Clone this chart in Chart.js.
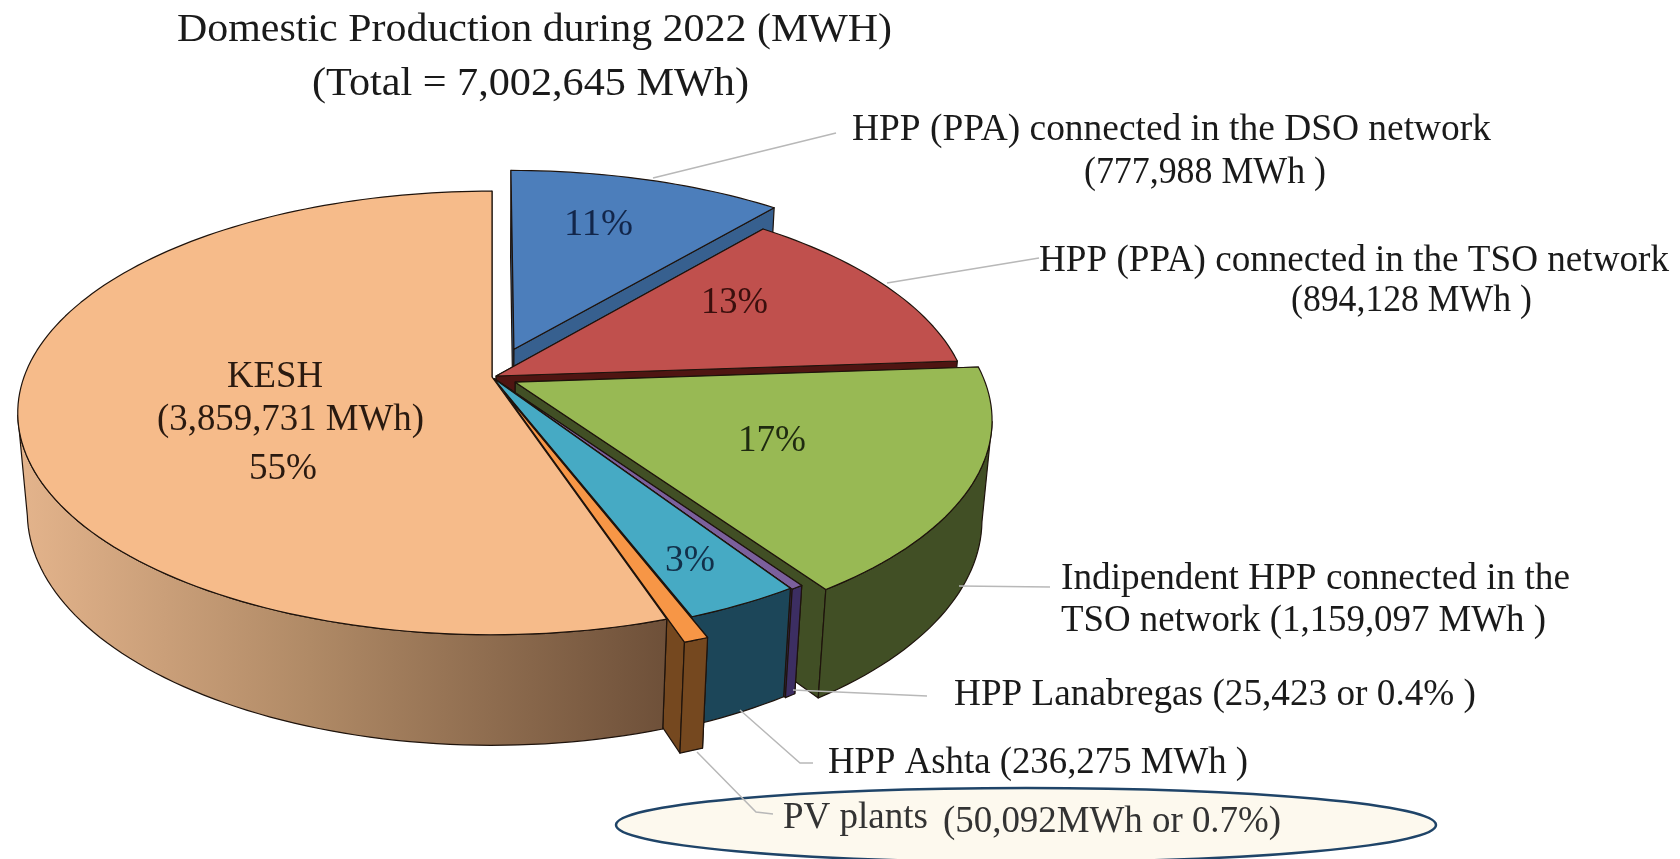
<!DOCTYPE html>
<html>
<head>
<meta charset="utf-8">
<title>Domestic Production during 2022</title>
<script src="https://cdn.jsdelivr.net/npm/chart.js@4"></script>
<style>
    html, body { margin: 0; padding: 0; background: #fff; overflow: hidden; }
    canvas { display: block; }
</style>
</head>
<body>
<canvas id="pieChart" width="1680" height="859"></canvas>
<script>
// Data, clockwise from 12 o'clock
const sliceNames = ['HPP (PPA) DSO', 'HPP (PPA) TSO', 'Indipendent HPP', 'HPP Lanabregas', 'HPP Ashta', 'PV plants', 'KESH'];
const sliceValues = [777988, 894128, 1159097, 25423, 236275, 50092, 3859731];

// Slice styling, same order as the data
const topColors = ['#4c7ebb', '#c0504d', '#98b954', '#7b609d', '#46aac4', '#f79646', '#f6bb8a'];
const wallColors = ['#37608f', '#4f1512', '#414f25', '#3c2e62', '#1c4659', '#75481f', null];
const explode = [0.14, 0.01, 0.055, 0.012, 0.008, 0.08, 0];

// [text, left x, middle y, width, colour] - the reference type runs wide, so width is fitted
const titleLabels = [
    ['Domestic Production during 2022 (MWH)', 177, 30, 715, '#1a1a1a'],
    ['(Total = 7,002,645 MWh)', 312, 84, 437, '#1a1a1a']
];
const pieLabels = [
    ['11%', 564, 225, 69, '#12264a'],
    ['13%', 701, 303, 67, '#3a0f0d'],
    ['17%', 738, 441, 68, '#1f2a10'],
    ['3%', 665, 561, 50, '#12304a'],
    ['KESH', 227, 377, 96, '#2a1a10'],
    ['(3,859,731 MWh)', 157, 420, 267, '#2a1a10'],
    ['55%', 249, 469, 68, '#2a1a10']
];
const sideLabels = [
    ['HPP (PPA) connected in the DSO network', 852, 130, 639, '#1a1a1a'],
    ['(777,988 MWh )', 1084, 173, 242, '#1a1a1a'],
    ['HPP (PPA) connected in the TSO network', 1039, 261, 630, '#1a1a1a'],
    ['(894,128 MWh )', 1291, 301, 241, '#1a1a1a'],
    ['Indipendent HPP connected in the', 1061, 579, 509, '#1a1a1a'],
    ['TSO network (1,159,097 MWh )', 1061, 621, 485, '#1a1a1a'],
    ['HPP Lanabregas (25,423 or 0.4% )', 954, 695, 522, '#1a1a1a'],
    ['HPP Ashta (236,275 MWh )', 828, 763, 420, '#1a1a1a'],
    ['PV plants', 783, 818, 145, '#333'],
    ['(50,092MWh or 0.7%)', 943, 822, 338, '#333']
];
const leaderLines = [
    [[653, 178], [836, 133]],
    [[887, 283], [1039, 258]],
    [[959, 586], [1050, 587]],
    [[793, 690], [927, 696]],
    [[740, 710], [800, 763], [813, 763]],
    [[697, 752], [756, 812], [773, 814]]
];

// Perspective of the tilted disc, disc radius 1 maps to these pixels
const tilt = { rx: 468, ry: 216, depth: 100, persp: 0.162, shrink: 0.02 };
const serif = '"Liberation Serif", "Times New Roman", serif';

function project(arc, u, v, z) {
    const w = 1 - tilt.persp * v + tilt.shrink * z;
    return {
        x: arc.x + tilt.rx * u / w,
        y: arc.y + (tilt.ry * v + tilt.depth * z) / w
    };
}

function polygon(ctx, pts, fill) {
    ctx.beginPath();
    pts.forEach((p, i) => i ? ctx.lineTo(p.x, p.y) : ctx.moveTo(p.x, p.y));
    ctx.closePath();
    ctx.fillStyle = fill;
    ctx.fill();
    ctx.stroke();
}

function drawSlice(ctx, arc, index) {
    const mid = (arc.startAngle + arc.endAngle) / 2;
    const e = explode[index];
    const ou = e * Math.cos(mid);
    const ov = e * Math.sin(mid);

    // outer edge sampled along the library's arc angles
    const edge = [];
    const steps = Math.max(4, Math.ceil((arc.endAngle - arc.startAngle) * 40));
    for (let i = 0; i <= steps; i++) {
        const a = arc.startAngle + (arc.endAngle - arc.startAngle) * i / steps;
        edge.push([ou + Math.cos(a), ov + Math.sin(a), Math.sin(a)]);
    }
    const top = edge.map(p => project(arc, p[0], p[1], 0));
    const bottom = edge.map(p => project(arc, p[0], p[1], 1));
    const apexTop = project(arc, ou, ov, 0);
    const apexBottom = project(arc, ou, ov, 1);

    let wall = wallColors[index];
    if (!wall) {
        // KESH wall fades from light tan to dark brown
        wall = ctx.createLinearGradient(18, 0, 666, 0);
        wall.addColorStop(0, '#e4b48c');
        wall.addColorStop(0.45, '#b08a66');
        wall.addColorStop(1, '#6e5039');
    }

    ctx.strokeStyle = '#1e130c';
    ctx.lineWidth = 1.2;
    ctx.lineJoin = 'round';
    polygon(ctx, [apexTop, top[0], bottom[0], apexBottom], wall);
    polygon(ctx, [apexTop, top[top.length - 1], bottom[bottom.length - 1], apexBottom], wall);

    // outer wall only where it faces the viewer
    const keep = edge.map(p => p[2] > tilt.persp);
    const wallTop = top.filter((p, i) => keep[i]);
    const wallBottom = bottom.filter((p, i) => keep[i]);
    if (wallTop.length > 1) {
        polygon(ctx, wallTop.concat(wallBottom.reverse()), wall);
    }
    polygon(ctx, [apexTop].concat(top), topColors[index]);
}

function drawText(ctx, item, size) {
    const [text, x, y, width, colour] = item;
    ctx.save();
    ctx.font = size + 'px ' + serif;
    ctx.textAlign = 'left';
    ctx.textBaseline = 'middle';
    ctx.fillStyle = colour;
    // stretch sideways to the width seen in the reference
    ctx.translate(x, y);
    ctx.scale(width / ctx.measureText(text).width, 1);
    ctx.fillText(text, 0, 0);
    ctx.restore();
}

const pie3d = {
    id: 'pie3d',
    beforeDatasetsDraw(chart) {
        const ctx = chart.ctx;
        const arcs = chart.getDatasetMeta(0).data;
        ctx.save();
        arcs.forEach((arc, i) => drawSlice(ctx, arc, i));
        ctx.restore();
        return false;
    },
    afterDraw(chart) {
        const ctx = chart.ctx;
        ctx.save();

        // highlight round the PV plants label
        ctx.beginPath();
        ctx.ellipse(1026, 825, 410, 37, 0, 0, Math.PI * 2);
        ctx.fillStyle = '#fdf9ee';
        ctx.fill();
        ctx.strokeStyle = '#1f4468';
        ctx.lineWidth = 2.5;
        ctx.stroke();

        ctx.strokeStyle = '#b8b8b8';
        ctx.lineWidth = 1.5;
        leaderLines.forEach(line => {
            ctx.beginPath();
            line.forEach((p, i) => i ? ctx.lineTo(p[0], p[1]) : ctx.moveTo(p[0], p[1]));
            ctx.stroke();
        });

        titleLabels.forEach(l => drawText(ctx, l, 40));
        pieLabels.forEach(l => drawText(ctx, l, 37));
        sideLabels.forEach(l => drawText(ctx, l, 37));
        ctx.restore();
    }
};

new Chart(document.getElementById('pieChart').getContext('2d'), {
    type: 'pie',
    data: {
        labels: sliceNames,
        datasets: [{
            data: sliceValues,
            backgroundColor: topColors
        }]
    },
    options: {
        responsive: false,
        animation: false,
        // puts the library's pie centre on the apex of the drawn disc
        layout: { padding: { left: 0, top: 0, right: 696, bottom: 105 } },
        plugins: {
            legend: { display: false },
            tooltip: { enabled: false }
        }
    },
    plugins: [pie3d]
});
</script>
</body>
</html>
